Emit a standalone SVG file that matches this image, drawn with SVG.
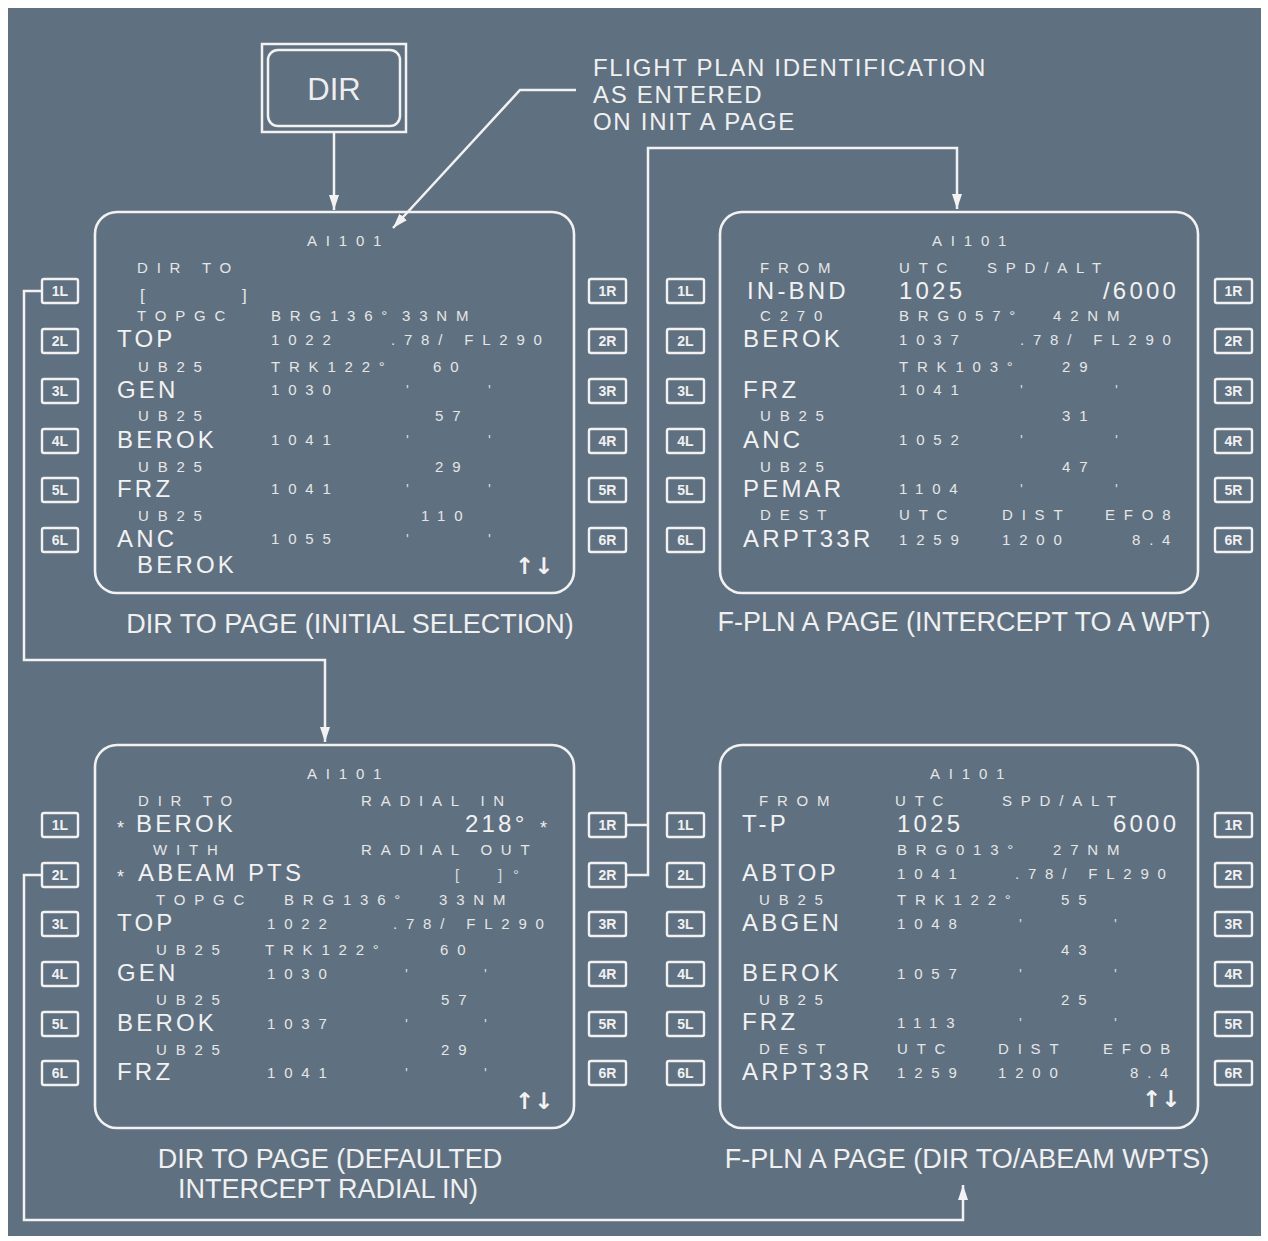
<svg xmlns="http://www.w3.org/2000/svg" width="1268" height="1241" viewBox="0 0 1268 1241">
<style>
.ln{fill:none;stroke:#f2f2f2;stroke-width:2.5}
.scr{fill:none;stroke:#f2f2f2;stroke-width:2.6}
.btn{fill:none;stroke:#f2f2f2;stroke-width:2.4}
text{font-family:"Liberation Sans",Arial,sans-serif;fill:#eeeeee}
.s{font-size:15px;letter-spacing:8.8px;fill:#e6e6e6}
.l{font-size:24px;letter-spacing:3.2px;fill:#f2f2f2}
.t{font-size:15px;fill:#dcdcdc}
.b{font-size:17px;fill:#e6e6e6}
.st{font-size:18px;fill:#eeeeee}
.k{font-size:14px;font-weight:bold;text-anchor:middle;fill:#f0f0f0}
.cap{font-size:24px;letter-spacing:1.7px;fill:#f0f0f0}
.capm{font-size:27px;fill:#f0f0f0;text-anchor:middle}
.ar{font-family:"DejaVu Sans",sans-serif;font-size:23px;font-weight:bold;fill:#f2f2f2}
</style>
<defs>
<marker id="ah" markerUnits="userSpaceOnUse" markerWidth="15" markerHeight="10" refX="15" refY="5" orient="auto">
<path d="M0,0 L15,5 L0,10 z" fill="#f2f2f2"/>
</marker>
</defs>
<rect x="0" y="0" width="1268" height="1241" fill="#ffffff"/>
<rect x="8" y="8" width="1253" height="1228" fill="#5f7080"/>

<g id="dir-key">
<rect x="262" y="44" width="144" height="88" class="ln" stroke-width="2.2"/>
<rect x="268" y="50" width="132" height="76" rx="10" class="ln" stroke-width="2.2"/>
<text x="334" y="100" font-size="31" text-anchor="middle">DIR</text>
</g>

<g id="callout">
<text x="593" y="76" class="cap">FLIGHT PLAN IDENTIFICATION</text>
<text x="593" y="103" class="cap">AS ENTERED</text>
<text x="593" y="130" class="cap">ON INIT A PAGE</text>
</g>

<g id="connectors">
<path d="M334,132 V210" class="ln" marker-end="url(#ah)"/>
<path d="M576,90 H520 L393,228" class="ln" marker-end="url(#ah)"/>
<path d="M42,291 H24 V660 H325 V742" class="ln" marker-end="url(#ah)"/>
<path d="M627,825 H648 M627,875 H648 V148 H957 V209" class="ln" marker-end="url(#ah)"/>
<path d="M42,875 H24 V1220 H963 V1185" class="ln" marker-end="url(#ah)"/>
</g>

<g id="screen-dir-initial">
<rect x="95" y="212" width="479" height="381" rx="22" class="scr"/>
<g class="btns">
<rect x="42" y="279" width="36" height="24" rx="2" class="btn"/><text x="60" y="296" class="k">1L</text>
<rect x="42" y="329" width="36" height="24" rx="2" class="btn"/><text x="60" y="346" class="k">2L</text>
<rect x="42" y="379" width="36" height="24" rx="2" class="btn"/><text x="60" y="396" class="k">3L</text>
<rect x="42" y="429" width="36" height="24" rx="2" class="btn"/><text x="60" y="446" class="k">4L</text>
<rect x="42" y="478" width="36" height="24" rx="2" class="btn"/><text x="60" y="495" class="k">5L</text>
<rect x="42" y="528" width="36" height="24" rx="2" class="btn"/><text x="60" y="545" class="k">6L</text>
<rect x="589" y="279" width="37" height="24" rx="2" class="btn"/><text x="607.5" y="296" class="k">1R</text>
<rect x="589" y="329" width="37" height="24" rx="2" class="btn"/><text x="607.5" y="346" class="k">2R</text>
<rect x="589" y="379" width="37" height="24" rx="2" class="btn"/><text x="607.5" y="396" class="k">3R</text>
<rect x="589" y="429" width="37" height="24" rx="2" class="btn"/><text x="607.5" y="446" class="k">4R</text>
<rect x="589" y="478" width="37" height="24" rx="2" class="btn"/><text x="607.5" y="495" class="k">5R</text>
<rect x="589" y="528" width="37" height="24" rx="2" class="btn"/><text x="607.5" y="545" class="k">6R</text>
</g>
<text x="307" y="246" class="s">AI101</text>
<text x="137" y="273" class="s">DIR TO</text>
<text x="140" y="301" class="b">[</text><text x="242" y="301" class="b">]</text>
<text x="137" y="321" class="s">TOPGC</text><text x="271" y="321" class="s">BRG136°</text><text x="402" y="321" class="s">33NM</text>
<text x="117" y="347" class="l">TOP</text><text x="271" y="345" class="s">1022</text><text x="391" y="345" class="s">.78/ FL290</text>
<text x="138" y="372" class="s">UB25</text><text x="271" y="372" class="s">TRK122°</text><text x="433" y="372" class="s">60</text>
<text x="117" y="398" class="l">GEN</text><text x="271" y="395" class="s">1030</text><text x="406" y="395" class="t">'</text><text x="488" y="395" class="t">'</text>
<text x="138" y="421" class="s">UB25</text><text x="435" y="421" class="s">57</text>
<text x="117" y="448" class="l">BEROK</text><text x="271" y="445" class="s">1041</text><text x="406" y="445" class="t">'</text><text x="488" y="445" class="t">'</text>
<text x="138" y="472" class="s">UB25</text><text x="435" y="472" class="s">29</text>
<text x="117" y="497" class="l">FRZ</text><text x="271" y="494" class="s">1041</text><text x="406" y="494" class="t">'</text><text x="488" y="494" class="t">'</text>
<text x="138" y="521" class="s">UB25</text><text x="421" y="521" class="s">110</text>
<text x="117" y="547" class="l">ANC</text><text x="271" y="544" class="s">1055</text><text x="406" y="544" class="t">'</text><text x="488" y="544" class="t">'</text>
<text x="137" y="573" class="l">BEROK</text>
<text x="515" y="574" class="ar">↑↓</text>
<text x="350" y="633" class="capm">DIR TO PAGE (INITIAL SELECTION)</text>
</g>

<g id="screen-fpln-intercept">
<rect x="720" y="212" width="478" height="381" rx="22" class="scr"/>
<g class="btns">
<rect x="667" y="279" width="37" height="24" rx="2" class="btn"/><text x="685.5" y="296" class="k">1L</text>
<rect x="667" y="329" width="37" height="24" rx="2" class="btn"/><text x="685.5" y="346" class="k">2L</text>
<rect x="667" y="379" width="37" height="24" rx="2" class="btn"/><text x="685.5" y="396" class="k">3L</text>
<rect x="667" y="429" width="37" height="24" rx="2" class="btn"/><text x="685.5" y="446" class="k">4L</text>
<rect x="667" y="478" width="37" height="24" rx="2" class="btn"/><text x="685.5" y="495" class="k">5L</text>
<rect x="667" y="528" width="37" height="24" rx="2" class="btn"/><text x="685.5" y="545" class="k">6L</text>
<rect x="1215" y="279" width="37" height="24" rx="2" class="btn"/><text x="1233.5" y="296" class="k">1R</text>
<rect x="1215" y="329" width="37" height="24" rx="2" class="btn"/><text x="1233.5" y="346" class="k">2R</text>
<rect x="1215" y="379" width="37" height="24" rx="2" class="btn"/><text x="1233.5" y="396" class="k">3R</text>
<rect x="1215" y="429" width="37" height="24" rx="2" class="btn"/><text x="1233.5" y="446" class="k">4R</text>
<rect x="1215" y="478" width="37" height="24" rx="2" class="btn"/><text x="1233.5" y="495" class="k">5R</text>
<rect x="1215" y="528" width="37" height="24" rx="2" class="btn"/><text x="1233.5" y="545" class="k">6R</text>
</g>
<text x="932" y="246" class="s">AI101</text>
<text x="760" y="273" class="s">FROM</text><text x="899" y="273" class="s">UTC</text><text x="987" y="273" class="s">SPD/ALT</text>
<text x="747" y="299" class="l">IN-BND</text><text x="899" y="299" class="l">1025</text><text x="1103" y="299" class="l">/6000</text>
<text x="760" y="321" class="s">C270</text><text x="899" y="321" class="s">BRG057°</text><text x="1053" y="321" class="s">42NM</text>
<text x="743" y="347" class="l">BEROK</text><text x="899" y="345" class="s">1037</text><text x="1020" y="345" class="s">.78/ FL290</text>
<text x="899" y="372" class="s">TRK103°</text><text x="1062" y="372" class="s">29</text>
<text x="743" y="398" class="l">FRZ</text><text x="899" y="395" class="s">1041</text><text x="1020" y="395" class="t">'</text><text x="1115" y="395" class="t">'</text>
<text x="760" y="421" class="s">UB25</text><text x="1062" y="421" class="s">31</text>
<text x="743" y="448" class="l">ANC</text><text x="899" y="445" class="s">1052</text><text x="1020" y="445" class="t">'</text><text x="1115" y="445" class="t">'</text>
<text x="760" y="472" class="s">UB25</text><text x="1062" y="472" class="s">47</text>
<text x="743" y="497" class="l">PEMAR</text><text x="899" y="494" class="s">1104</text><text x="1020" y="494" class="t">'</text><text x="1115" y="494" class="t">'</text>
<text x="760" y="520" class="s">DEST</text><text x="899" y="520" class="s">UTC</text><text x="1002" y="520" class="s">DIST</text><text x="1105" y="520" class="s">EFO8</text>
<text x="743" y="547" class="l">ARPT33R</text><text x="899" y="545" class="s">1259</text><text x="1002" y="545" class="s">1200</text><text x="1132" y="545" class="s">8.4</text>
<text x="964" y="631" class="capm">F-PLN A PAGE (INTERCEPT TO A WPT)</text>
</g>

<g id="screen-dir-defaulted">
<rect x="95" y="745" width="479" height="383" rx="22" class="scr"/>
<g class="btns">
<rect x="42" y="813" width="36" height="24" rx="2" class="btn"/><text x="60" y="830" class="k">1L</text>
<rect x="42" y="863" width="36" height="24" rx="2" class="btn"/><text x="60" y="880" class="k">2L</text>
<rect x="42" y="912" width="36" height="24" rx="2" class="btn"/><text x="60" y="929" class="k">3L</text>
<rect x="42" y="962" width="36" height="24" rx="2" class="btn"/><text x="60" y="979" class="k">4L</text>
<rect x="42" y="1012" width="36" height="24" rx="2" class="btn"/><text x="60" y="1029" class="k">5L</text>
<rect x="42" y="1061" width="36" height="24" rx="2" class="btn"/><text x="60" y="1078" class="k">6L</text>
<rect x="589" y="813" width="37" height="24" rx="2" class="btn"/><text x="607.5" y="830" class="k">1R</text>
<rect x="589" y="863" width="37" height="24" rx="2" class="btn"/><text x="607.5" y="880" class="k">2R</text>
<rect x="589" y="912" width="37" height="24" rx="2" class="btn"/><text x="607.5" y="929" class="k">3R</text>
<rect x="589" y="962" width="37" height="24" rx="2" class="btn"/><text x="607.5" y="979" class="k">4R</text>
<rect x="589" y="1012" width="37" height="24" rx="2" class="btn"/><text x="607.5" y="1029" class="k">5R</text>
<rect x="589" y="1061" width="37" height="24" rx="2" class="btn"/><text x="607.5" y="1078" class="k">6R</text>
</g>
<text x="307" y="779" class="s">AI101</text>
<text x="138" y="806" class="s">DIR TO</text><text x="361" y="806" class="s">RADIAL IN</text>
<text x="117" y="834" class="st">*</text><text x="136" y="832" class="l">BEROK</text>
<text x="465" y="832" class="l">218°</text><text x="540" y="834" class="st">*</text>
<text x="153" y="855" class="s">WITH</text><text x="361" y="855" class="s">RADIAL OUT</text>
<text x="117" y="883" class="st">*</text><text x="138" y="881" class="l">ABEAM PTS</text>
<text x="455" y="880" class="t">[</text><text x="498" y="880" class="t">]</text><text x="513" y="880" class="t">°</text>
<text x="156" y="905" class="s">TOPGC</text><text x="284" y="905" class="s">BRG136°</text><text x="439" y="905" class="s">33NM</text>
<text x="117" y="931" class="l">TOP</text><text x="267" y="929" class="s">1022</text><text x="393" y="929" class="s">.78/ FL290</text>
<text x="156" y="955" class="s">UB25</text><text x="265" y="955" class="s">TRK122°</text><text x="440" y="955" class="s">60</text>
<text x="117" y="981" class="l">GEN</text><text x="267" y="979" class="s">1030</text><text x="405" y="979" class="t">'</text><text x="484" y="979" class="t">'</text>
<text x="156" y="1005" class="s">UB25</text><text x="441" y="1005" class="s">57</text>
<text x="117" y="1031" class="l">BEROK</text><text x="267" y="1029" class="s">1037</text><text x="405" y="1029" class="t">'</text><text x="484" y="1029" class="t">'</text>
<text x="156" y="1055" class="s">UB25</text><text x="441" y="1055" class="s">29</text>
<text x="117" y="1080" class="l">FRZ</text><text x="267" y="1078" class="s">1041</text><text x="405" y="1078" class="t">'</text><text x="484" y="1078" class="t">'</text>
<text x="515" y="1109" class="ar">↑↓</text>
<text x="330" y="1168" class="capm">DIR TO PAGE (DEFAULTED</text>
<text x="328" y="1198" class="capm">INTERCEPT RADIAL IN)</text>
</g>

<g id="screen-fpln-abeam">
<rect x="720" y="745" width="478" height="383" rx="22" class="scr"/>
<g class="btns">
<rect x="667" y="813" width="37" height="24" rx="2" class="btn"/><text x="685.5" y="830" class="k">1L</text>
<rect x="667" y="863" width="37" height="24" rx="2" class="btn"/><text x="685.5" y="880" class="k">2L</text>
<rect x="667" y="912" width="37" height="24" rx="2" class="btn"/><text x="685.5" y="929" class="k">3L</text>
<rect x="667" y="962" width="37" height="24" rx="2" class="btn"/><text x="685.5" y="979" class="k">4L</text>
<rect x="667" y="1012" width="37" height="24" rx="2" class="btn"/><text x="685.5" y="1029" class="k">5L</text>
<rect x="667" y="1061" width="37" height="24" rx="2" class="btn"/><text x="685.5" y="1078" class="k">6L</text>
<rect x="1215" y="813" width="37" height="24" rx="2" class="btn"/><text x="1233.5" y="830" class="k">1R</text>
<rect x="1215" y="863" width="37" height="24" rx="2" class="btn"/><text x="1233.5" y="880" class="k">2R</text>
<rect x="1215" y="912" width="37" height="24" rx="2" class="btn"/><text x="1233.5" y="929" class="k">3R</text>
<rect x="1215" y="962" width="37" height="24" rx="2" class="btn"/><text x="1233.5" y="979" class="k">4R</text>
<rect x="1215" y="1012" width="37" height="24" rx="2" class="btn"/><text x="1233.5" y="1029" class="k">5R</text>
<rect x="1215" y="1061" width="37" height="24" rx="2" class="btn"/><text x="1233.5" y="1078" class="k">6R</text>
</g>
<text x="930" y="779" class="s">AI101</text>
<text x="759" y="806" class="s">FROM</text><text x="895" y="806" class="s">UTC</text><text x="1002" y="806" class="s">SPD/ALT</text>
<text x="742" y="832" class="l">T-P</text><text x="897" y="832" class="l">1025</text><text x="1113" y="832" class="l">6000</text>
<text x="897" y="855" class="s">BRG013°</text><text x="1053" y="855" class="s">27NM</text>
<text x="742" y="881" class="l">ABTOP</text><text x="897" y="879" class="s">1041</text><text x="1015" y="879" class="s">.78/ FL290</text>
<text x="759" y="905" class="s">UB25</text><text x="897" y="905" class="s">TRK122°</text><text x="1061" y="905" class="s">55</text>
<text x="742" y="931" class="l">ABGEN</text><text x="897" y="929" class="s">1048</text><text x="1019" y="929" class="t">'</text><text x="1114" y="929" class="t">'</text>
<text x="1061" y="955" class="s">43</text>
<text x="742" y="981" class="l">BEROK</text><text x="897" y="979" class="s">1057</text><text x="1019" y="979" class="t">'</text><text x="1114" y="979" class="t">'</text>
<text x="759" y="1005" class="s">UB25</text><text x="1061" y="1005" class="s">25</text>
<text x="742" y="1030" class="l">FRZ</text><text x="897" y="1028" class="s">1113</text><text x="1019" y="1028" class="t">'</text><text x="1114" y="1028" class="t">'</text>
<text x="759" y="1054" class="s">DEST</text><text x="897" y="1054" class="s">UTC</text><text x="998" y="1054" class="s">DIST</text><text x="1103" y="1054" class="s">EFOB</text>
<text x="742" y="1080" class="l">ARPT33R</text><text x="897" y="1078" class="s">1259</text><text x="998" y="1078" class="s">1200</text><text x="1130" y="1078" class="s">8.4</text>
<text x="1142" y="1107" class="ar">↑↓</text>
<text x="967" y="1168" class="capm">F-PLN A PAGE (DIR TO/ABEAM WPTS)</text>
</g>
</svg>
